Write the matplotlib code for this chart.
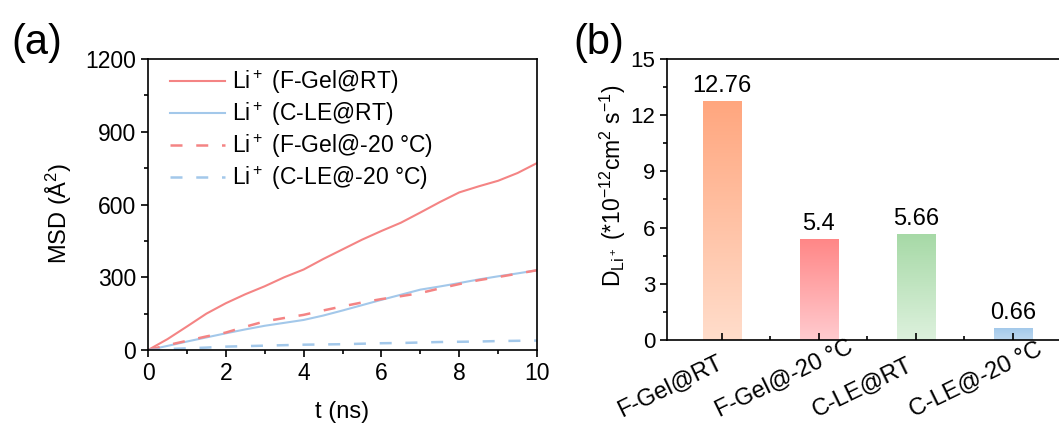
import numpy as np
import matplotlib
matplotlib.use("Agg")
import matplotlib.pyplot as plt
from matplotlib.colors import LinearSegmentedColormap
from matplotlib.ticker import MultipleLocator
from matplotlib.transforms import ScaledTranslation

plt.rcParams['font.family'] = ['Liberation Sans', 'DejaVu Sans']
plt.rcParams['mathtext.fontset'] = 'custom'
plt.rcParams['mathtext.rm'] = 'Liberation Sans'
plt.rcParams['mathtext.it'] = 'Liberation Sans'

# MSD vs time (ns)
t = [0, 0.5, 1, 1.5, 2, 2.5, 3, 3.5, 4, 4.5, 5, 5.5, 6, 6.5, 7, 7.5, 8, 8.5, 9, 9.5, 10]
msd_fgel_rt = [0, 45, 97, 150, 193, 230, 263, 300, 332, 375, 415, 455, 491, 525, 567, 610, 650, 675, 698, 730, 771]
msd_cle_rt = [0, 17, 35, 52, 69, 85, 100, 112, 124, 142, 163, 185, 207, 228, 249, 262, 276, 291, 304, 316, 329]
msd_fgel_m20 = [0, 20, 38, 56, 72, 96, 118, 132, 145, 163, 180, 196, 210, 222, 235, 254, 272, 288, 301, 315, 329]
msd_cle_m20 = [0, 4, 7, 10, 14, 16, 18, 20, 22, 23, 24, 26, 28, 29, 31, 33, 34, 35, 37, 38, 39]

# diffusion coefficients
samples = ['F-Gel@RT', 'F-Gel@-20 °C', 'C-LE@RT', 'C-LE@-20 °C']
d_li = [12.76, 5.4, 5.66, 0.66]
d_labels = ['12.76', '5.4', '5.66', '0.66']

red = '#F48484'
blue = '#A3C8EA'

fig = plt.figure(figsize=(10.59, 4.30), dpi=100)

# ---- (a) MSD curves
ax1 = fig.add_axes([0.1398, 0.186, 0.3673, 0.6767])
ax1.plot(t, msd_fgel_rt, color=red, lw=1.5, label='Li$^+$ (F-Gel@RT)')
ax1.plot(t, msd_cle_rt, color=blue, lw=1.5, label='Li$^+$ (C-LE@RT)')
ax1.plot(t, msd_fgel_m20, color=red, lw=1.8, ls=(0, (4.8, 5.5)), label='Li$^+$ (F-Gel@-20 °C)')
ax1.plot(t, msd_cle_m20, color=blue, lw=1.8, ls=(0, (4.8, 5.5)), label='Li$^+$ (C-LE@-20 °C)')
ax1.set_xlim(0, 10)
ax1.set_ylim(0, 1200)
ax1.xaxis.set_major_locator(MultipleLocator(2))
ax1.xaxis.set_minor_locator(MultipleLocator(1))
ax1.yaxis.set_major_locator(MultipleLocator(300))
ax1.yaxis.set_minor_locator(MultipleLocator(150))
ax1.tick_params(which='both', direction='out', width=1.2, labelsize=16.5)
ax1.tick_params(which='major', length=5)
ax1.tick_params(which='minor', length=3)
ax1.set_xlabel('t (ns)', fontsize=17)
ax1.set_ylabel('MSD (Å$^2$)', fontsize=17)
ax1.yaxis.set_label_coords(-0.19, 0.47)
ax1.xaxis.set_label_coords(0.5, -0.175)
for s in ax1.spines.values():
    s.set_linewidth(1.2)
ax1.legend(loc='upper left', bbox_to_anchor=(0.033, 1.0), frameon=False,
           fontsize=16.5, handlelength=2.4, handletextpad=0.3,
           borderaxespad=0, labelspacing=0.18)
fig.text(0.035, 0.90, '(a)', fontsize=30, ha='center', va='center')

# ---- (b) diffusion coefficient bars with vertical gradient
ax2 = fig.add_axes([0.6298, 0.2093, 0.3725, 0.6535])
x = np.arange(len(samples))
tops = ['#FFA67E', '#FF8686', '#A6D9A6', '#A2C8EA']
bottoms = ['#FFDDCB', '#FFCBCF', '#DDF1DD', '#BCD8F0']
bars = ax2.bar(x, d_li, width=0.4, color='none', edgecolor='none')
grad = np.linspace(1, 0, 256).reshape(-1, 1)
for b, c_top, c_bot in zip(bars, tops, bottoms):
    cmap = LinearSegmentedColormap.from_list('g', [c_bot, c_top])
    x0, w, h = b.get_x(), b.get_width(), b.get_height()
    im = ax2.imshow(grad, cmap=cmap, aspect='auto', extent=[x0, x0 + w, 0, h],
                    zorder=1, vmin=0, vmax=1)
    im.set_clip_path(b)
for xi, v, lab in zip(x, d_li, d_labels):
    ax2.text(xi, v + 0.2, lab, ha='center', va='bottom', fontsize=17)
ax2.set_xlim(-0.567, 3.5)
ax2.set_ylim(0, 15)
ax2.set_xticks(x)
ax2.set_xticklabels(samples, rotation=26, ha='left', va='baseline',
                    rotation_mode='anchor', fontsize=17)
ax2.set_xticks(x[:-1] + 0.5, minor=True)
ax2.yaxis.set_major_locator(MultipleLocator(3))
ax2.yaxis.set_minor_locator(MultipleLocator(1.5))
ax2.tick_params(axis='y', which='both', direction='out', width=1.2, labelsize=16)
ax2.tick_params(axis='y', which='major', length=5)
ax2.tick_params(axis='y', which='minor', length=3)
ax2.tick_params(axis='x', which='major', direction='in', length=5, width=1.2, pad=0)
ax2.tick_params(axis='x', which='minor', direction='in', length=3, width=1.2)
# labels start about one bar spacing left of their tick
shift = ScaledTranslation(-1.0, -0.77, fig.dpi_scale_trans)
for lbl in ax2.get_xticklabels():
    lbl.set_transform(lbl.get_transform() + shift)
ax2.set_ylabel(r'D$_{\mathregular{Li^+}}$ (*10$^{\mathregular{-12}}$cm$^{\mathregular{2}}$ s$^{\mathregular{-1}}$)',
               fontsize=16.5)
ax2.yaxis.set_label_coords(-0.1, 0.55)
for s in ax2.spines.values():
    s.set_linewidth(1.2)
fig.text(0.5656, 0.90, '(b)', fontsize=30, ha='center', va='center')

fig.savefig('out.png', dpi=100)
